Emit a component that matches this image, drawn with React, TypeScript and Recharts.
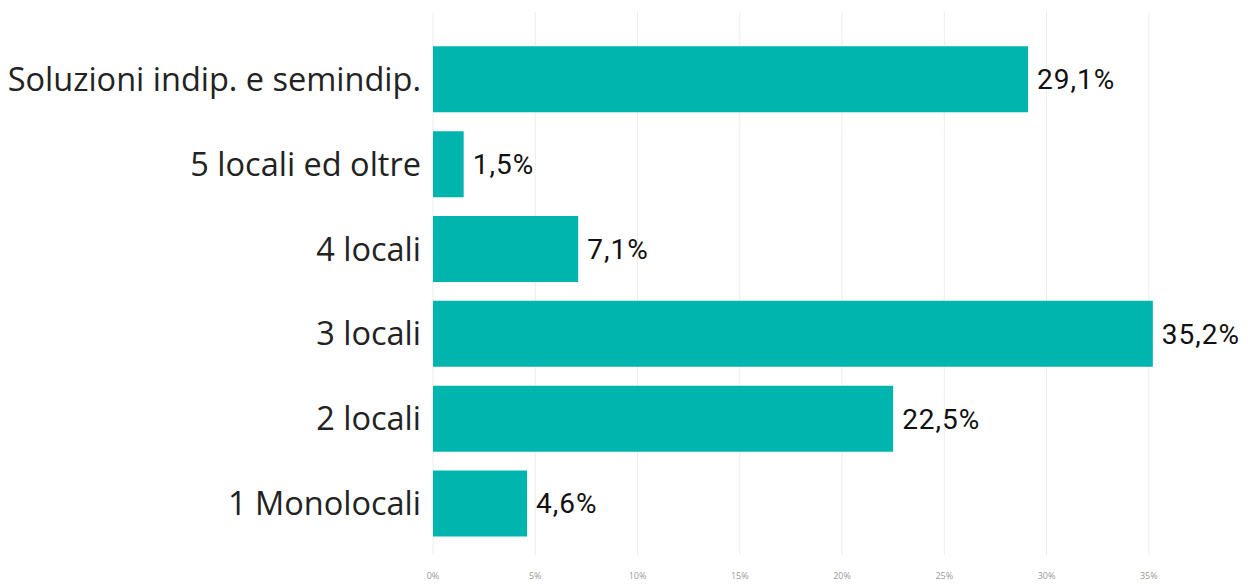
import React from "react";
import { BarChart, Bar, XAxis, YAxis, CartesianGrid, LabelList } from "recharts";

const categories = [
  "Soluzioni indip. e semindip.",
  "5 locali ed oltre",
  "4 locali",
  "3 locali",
  "2 locali",
  "1 Monolocali",
];
const values = [29.1, 1.5, 7.1, 35.2, 22.5, 4.6];
const xTicks = [0, 5, 10, 15, 20, 25, 30, 35];

const data = categories.map((c, i) => ({ name: c, value: values[i] }));

const fmt = (v: number) => v.toFixed(1).replace(".", ",") + "%";

const PLOT_LEFT = 433;
const PLOT_RIGHT = 1251;
const X_MAX = 40;

export default function App() {
  return (
    <div style={{ position: "absolute", left: 0, top: 0, background: "#fff" }}>
      <BarChart
        width={1254}
        height={587}
        data={data}
        layout="vertical"
        margin={{ top: 12, right: 1254 - PLOT_RIGHT, bottom: 0, left: 0 }}
        barCategoryGap="11%"
      >
        <CartesianGrid
          horizontal={false}
          stroke="#ececec"
          strokeWidth={1}
          verticalCoordinatesGenerator={() =>
            xTicks.map((t) => PLOT_LEFT + (t / X_MAX) * (PLOT_RIGHT - PLOT_LEFT))
          }
        />
        <XAxis
          type="number"
          domain={[0, X_MAX]}
          ticks={xTicks}
          interval={0}
          tickFormatter={(v: number) => `${v}%`}
          axisLine={false}
          tickLine={false}
          height={32}
          tick={{ fill: "#9a9a9a", fontSize: 9, fontFamily: "Open Sans" }}
          tickMargin={12}
        />
        <YAxis
          type="category"
          dataKey="name"
          width={PLOT_LEFT}
          axisLine={false}
          tickLine={false}
          tickMargin={6}
          padding={{ top: 25, bottom: 9 }}
          tick={{ fill: "#222", fontSize: 32.5, fontFamily: "Open Sans" }}
        />
        <Bar dataKey="value" fill="#00B5AD" isAnimationActive={false}>
          <LabelList
            dataKey="value"
            position="right"
            offset={9}
            formatter={(v: number) => fmt(v)}
            style={{ fill: "#111", fontSize: 28, fontFamily: "Roboto", letterSpacing: 1 }}
          />
        </Bar>
      </BarChart>
    </div>
  );
}
